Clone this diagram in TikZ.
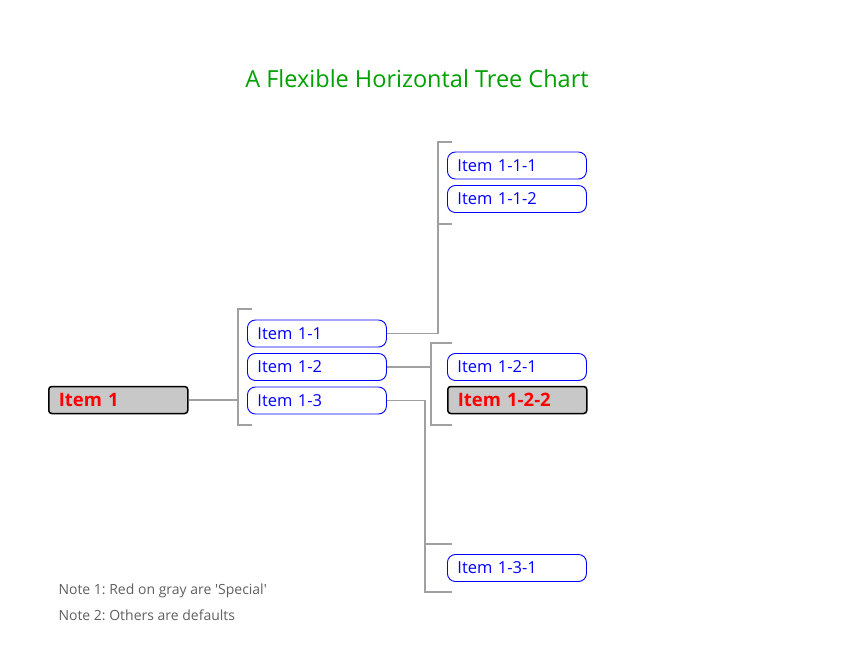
\documentclass[tikz,border=0pt]{standalone}
\usepackage{fontspec}
\setmainfont{Open Sans}
\usetikzlibrary{positioning}

\definecolor{linegray}{HTML}{A0A0A0}
\definecolor{specgray}{HTML}{C8C8C8}
\definecolor{titlegreen}{HTML}{00A000}
\definecolor{notegray}{HTML}{606060}
\newcommand{\itemfont}{\fontsize{16.5}{19}\selectfont}
\frenchspacing

\begin{document}
\begin{tikzpicture}[x=1pt,y=-1pt,
        item/.style={draw=blue,line width=0.9pt,fill=white,rounded corners=8pt,text=blue,
                minimum height=27pt,text width=119pt,inner xsep=10pt,
                anchor=west,font=\itemfont},
        special/.style={item,draw=black,line width=1.5pt,fill=specgray,
                text=red,rounded corners=3pt,font=\fontsize{18.5}{19}\selectfont\bfseries},
        conn/.style={draw=linegray,line width=1.5pt}]
        \useasboundingbox (0,0) rectangle (851,665);

        % title
        \node[text=titlegreen,font=\fontsize{23.5}{28}\selectfont] (title) at (417,79) {A Flexible Horizontal Tree Chart};

        % the tree items
        \node[special] (i1) at (48,400) {Item 1};
        \node[item] (i11) at (247,333.5) {Item 1-1};
        \node[item] (i12) at (247,367) {Item 1-2};
        \node[item] (i13) at (247,400.5) {Item 1-3};
        \node[item] (i111) at (447,165.5) {Item 1-1-1};
        \node[item] (i112) at (447,199) {Item 1-1-2};
        \node[item] (i121) at (447,367) {Item 1-2-1};
        \node[special] (i122) at (447,400) {Item 1-2-2};
        \node[item] (i131) at (447,568) {Item 1-3-1};

        % bracket corners
        \coordinate (b1) at (238,400);
        \coordinate (b1t) at (238,309);
        \coordinate (b1b) at (238,425);
        \coordinate (b11) at (438,333.5);
        \coordinate (b11t) at (438,142);
        \coordinate (b11b) at (438,224);
        \coordinate (b12) at (431,367);
        \coordinate (b12t) at (431,343);
        \coordinate (b12b) at (431,425);
        \coordinate (b13) at (425,400.5);
        \coordinate (b13t) at (425,544);
        \coordinate (b13b) at (425,592);

        % connectors
        \draw[conn] (i1.east) -- (b1);
        \draw[conn] ([xshift=14pt]b1t) -- (b1t) -- (b1b) -- ([xshift=14pt]b1b);
        \draw[conn] (i11.east) -- (b11) -- (b11t) -- ([xshift=14pt]b11t);
        \draw[conn] (b11b) -- ([xshift=14pt]b11b);
        \draw[conn] (i12.east) -- (b12);
        \draw[conn] ([xshift=21pt]b12t) -- (b12t) -- (b12b) -- ([xshift=21pt]b12b);
        \draw[conn] (i13.east) -- (b13) -- (b13b) -- ([xshift=27pt]b13b);
        \draw[conn] (b13t) -- ([xshift=27pt]b13t);

        % notes
        \node[anchor=west,text=notegray,font=\fontsize{14}{17}\selectfont] (note1) at (55,591) {Note 1: Red on gray are \textquotesingle Special\textquotesingle};
        \node[anchor=west,text=notegray,font=\fontsize{14}{17}\selectfont] (note2) at (55,615) {Note 2: Others are defaults};
\end{tikzpicture}
\end{document}
